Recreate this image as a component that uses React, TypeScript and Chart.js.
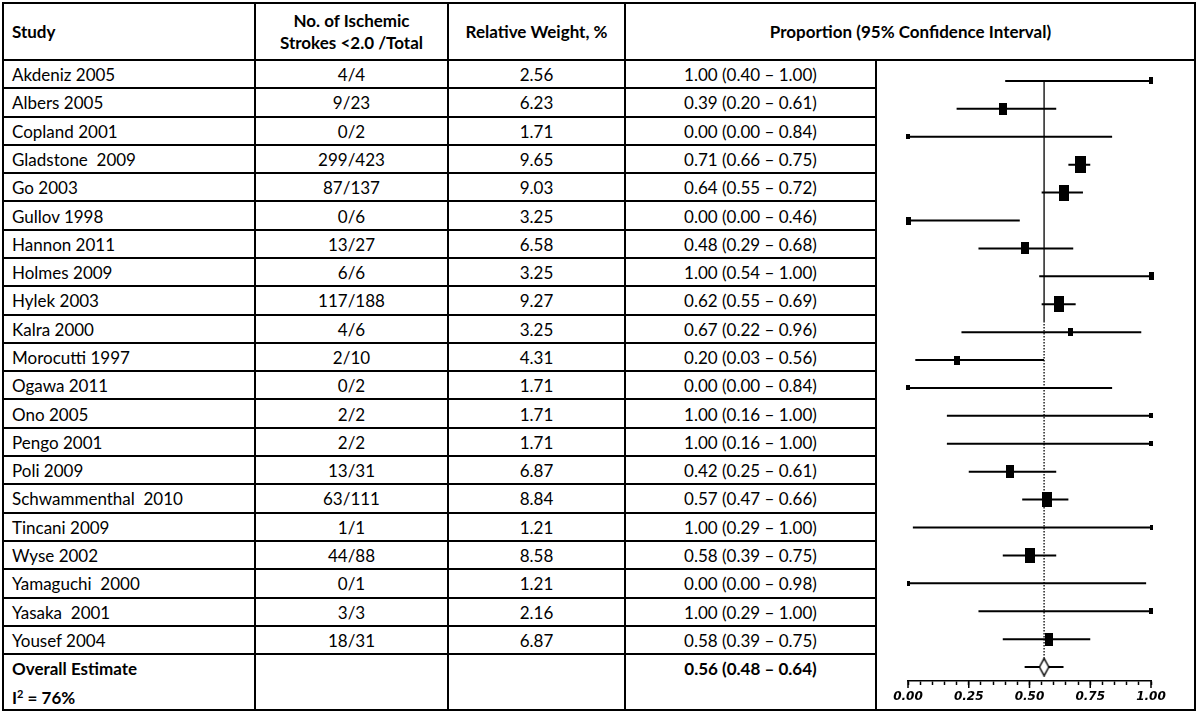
import React, { useEffect, useRef } from "react";
import { Chart, registerables } from "chart.js";

Chart.register(...registerables);

// ---------------- data ----------------
const studies = [
  "Akdeniz 2005", "Albers 2005", "Copland 2001", "Gladstone  2009", "Go 2003",
  "Gullov 1998", "Hannon 2011", "Holmes 2009", "Hylek 2003", "Kalra 2000",
  "Morocutti 1997", "Ogawa 2011", "Ono 2005", "Pengo 2001", "Poli 2009",
  "Schwammenthal  2010", "Tincani 2009", "Wyse 2002", "Yamaguchi  2000", "Yasaka  2001",
  "Yousef 2004",
];
const eventsTotal = [
  "4/4", "9/23", "0/2", "299/423", "87/137", "0/6", "13/27", "6/6", "117/188", "4/6",
  "2/10", "0/2", "2/2", "2/2", "13/31", "63/111", "1/1", "44/88", "0/1", "3/3", "18/31",
];
const weights = [
  2.56, 6.23, 1.71, 9.65, 9.03, 3.25, 6.58, 3.25, 9.27, 3.25,
  4.31, 1.71, 1.71, 1.71, 6.87, 8.84, 1.21, 8.58, 1.21, 2.16, 6.87,
];
const ciText = [
  "1.00 (0.40 – 1.00)", "0.39 (0.20 – 0.61)", "0.00 (0.00 – 0.84)", "0.71 (0.66 – 0.75)",
  "0.64 (0.55 – 0.72)", "0.00 (0.00 – 0.46)", "0.48 (0.29 – 0.68)", "1.00 (0.54 – 1.00)",
  "0.62 (0.55 – 0.69)", "0.67 (0.22 – 0.96)", "0.20 (0.03 – 0.56)", "0.00 (0.00 – 0.84)",
  "1.00 (0.16 – 1.00)", "1.00 (0.16 – 1.00)", "0.42 (0.25 – 0.61)", "0.57 (0.47 – 0.66)",
  "1.00 (0.29 – 1.00)", "0.58 (0.39 – 0.75)", "0.00 (0.00 – 0.98)", "1.00 (0.29 – 1.00)",
  "0.58 (0.39 – 0.75)",
];
// values as plotted in the forest plot
const plotEstimate = [
  1.0, 0.39, 0.0, 0.71, 0.64, 0.0, 0.48, 1.0, 0.62, 0.67,
  0.2, 0.0, 1.0, 1.0, 0.42, 0.57, 1.0, 0.5, 0.0, 1.0, 0.58,
];
const plotLower = [
  0.4, 0.2, 0.0, 0.66, 0.55, 0.0, 0.29, 0.54, 0.55, 0.22,
  0.03, 0.0, 0.16, 0.16, 0.25, 0.47, 0.02, 0.39, 0.0, 0.29, 0.39,
];
const plotUpper = [
  1.0, 0.61, 0.84, 0.75, 0.72, 0.46, 0.68, 1.0, 0.69, 0.96,
  0.56, 0.84, 1.0, 1.0, 0.61, 0.66, 1.0, 0.61, 0.98, 1.0, 0.75,
];
const overallLabel = "Overall Estimate";
const overallText = "0.56 (0.48 – 0.64)";
const overallEstimate = 0.56;
const overallLower = 0.48;
const overallUpper = 0.64;
const heterogeneity = "76%";
const xTickValues = [0, 0.25, 0.5, 0.75, 1];

// ---------------- layout ----------------
const T_L = 2, T_R = 1196, T_T = 2, T_B = 711;
const HEAD_B = 60;
const ROW_H = 28.29;
const COL1 = 255, COL2 = 448, COL3 = 625, PLOT_L = 876;
const LW = 2;
const FONT = "Lato, 'Open Sans', sans-serif";

const line = (x: number, y: number, w: number, h: number, key: string) => (
  <div key={key} style={{ position: "absolute", left: x, top: y, width: w, height: h, background: "#000" }} />
);

function ForestPlot() {
  const ref = useRef<HTMLCanvasElement>(null);
  useEffect(() => {
    const makeBox = (w: number) => {
      const c = document.createElement("canvas");
      c.width = Math.max(3, Math.round(0.9 * w + 2));
      c.height = Math.max(4, Math.round(1.4 * w + 3));
      const g = c.getContext("2d")!;
      g.fillStyle = "#000";
      g.fillRect(0, 0, c.width, c.height);
      return c;
    };
    const boxes = weights.map(makeBox);
    const diamond = document.createElement("canvas");
    diamond.width = 11;
    diamond.height = 19;
    {
      const g = diamond.getContext("2d")!;
      g.beginPath();
      g.moveTo(5.5, 0.8);
      g.lineTo(10.2, 9.5);
      g.lineTo(5.5, 18.2);
      g.lineTo(0.8, 9.5);
      g.closePath();
      g.fillStyle = "#fff";
      g.fill();
      g.strokeStyle = "#000";
      g.lineWidth = 1.4;
      g.stroke();
    }
    const overallRow = studies.length;
    const ciData: { x: number; y: number }[] = [];
    studies.forEach((_, i) => {
      ciData.push({ x: plotLower[i], y: i }, { x: plotUpper[i], y: i }, { x: NaN, y: NaN });
    });
    ciData.push({ x: overallLower, y: overallRow }, { x: overallUpper, y: overallRow });

    const majorTicks = {
      id: "majorTicks",
      afterDraw(chart: any) {
        const s = chart.scales.x;
        const ctx = chart.ctx;
        ctx.save();
        ctx.strokeStyle = "#000";
        ctx.lineWidth = 1.5;
        xTickValues.forEach((v) => {
          const x = s.getPixelForValue(v);
          ctx.beginPath();
          ctx.moveTo(x, s.top);
          ctx.lineTo(x, s.top + 7);
          ctx.stroke();
        });
        ctx.restore();
      },
    };

    const chart = new Chart(ref.current!, {
      type: "scatter",
      data: {
        datasets: [
          { data: [{ x: overallEstimate, y: overallRow }], pointStyle: diamond as any, pointRadius: 5, clip: false as any },
          { data: plotEstimate.map((x, i) => ({ x, y: i })), pointStyle: boxes as any, pointRadius: 5, clip: false as any },
          { data: ciData, showLine: true, borderColor: "#000", borderWidth: 2, pointRadius: 0, spanGaps: false, clip: false as any },
          { data: [{ x: overallEstimate, y: 0 }, { x: overallEstimate, y: 8.6 }], showLine: true, borderColor: "#000", borderWidth: 1.3, pointRadius: 0 },
          { data: [{ x: overallEstimate, y: 8.6 }, { x: overallEstimate, y: overallRow }], showLine: true, borderColor: "#000", borderWidth: 1.3, borderDash: [1.5, 1.5], pointRadius: 0 },
        ],
      },
      options: {
        animation: false,
        responsive: false,
        events: [],
        layout: { padding: { top: 5, left: 31, right: 43, bottom: 0 } },
        plugins: { legend: { display: false }, tooltip: { enabled: false } },
        scales: {
          x: {
            type: "linear",
            min: 0,
            max: 1,
            position: "bottom",
            afterFit: (s: any) => { s.height = 29; },
            ticks: {
              stepSize: 0.05,
              autoSkip: false,
              maxRotation: 0,
              padding: 5,
              color: "#000",
              font: { family: "'DejaVu Sans'", size: 12, style: "italic", weight: "bold" },
              callback: (v: any) => (xTickValues.some((t) => Math.abs(t - Number(v)) < 1e-6) ? Number(v).toFixed(2) : ""),
            },
            grid: { drawOnChartArea: false, drawTicks: true, tickLength: 4, tickColor: "#000", tickWidth: 1.5 },
            border: { display: true, color: "#000", width: 1.5 },
          },
          y: { type: "linear", reverse: true, min: -0.5, max: 21.5, display: false },
        },
      },
      plugins: [majorTicks],
    });
    return () => chart.destroy();
  }, []);
  return (
    <canvas
      ref={ref}
      width={317}
      height={649}
      style={{ position: "absolute", left: PLOT_L + 1, top: HEAD_B + 1, width: 317, height: 649 }}
    />
  );
}

export default function App() {
  const els: React.ReactNode[] = [];
  // outer border
  els.push(line(T_L, T_T, T_R - T_L, LW, "bt"));
  els.push(line(T_L, T_B - LW, T_R - T_L, LW, "bb"));
  els.push(line(T_L, T_T, LW, T_B - T_T, "bl"));
  els.push(line(T_R - LW, T_T, LW, T_B - T_T, "br"));
  // header bottom
  els.push(line(T_L, HEAD_B - 1, T_R - T_L, LW, "hb"));
  // column lines
  [COL1, COL2, COL3].forEach((c, i) => els.push(line(c - 1, T_T, LW, T_B - T_T, "c" + i)));
  els.push(line(PLOT_L - 1, HEAD_B, LW, T_B - HEAD_B, "cp"));
  // row lines
  for (let k = 1; k <= studies.length; k++) {
    const y = Math.round(HEAD_B + k * ROW_H);
    els.push(line(T_L, y - 1, PLOT_L - T_L, LW, "r" + k));
  }

  const cell = (
    key: string, x1: number, x2: number, y: number, h: number, content: React.ReactNode,
    align: "left" | "center", bold = false
  ) => (
    <div
      key={key}
      style={{
        position: "absolute", left: x1, top: y, width: x2 - x1, height: h,
        display: "flex", alignItems: "center",
        justifyContent: align === "left" ? "flex-start" : "center",
        paddingLeft: align === "left" ? 10 : 0, paddingTop: 2, boxSizing: "border-box",
        fontWeight: bold ? 700 : 400, whiteSpace: "pre", lineHeight: 1.3,
        textAlign: "center",
      }}
    >
      {content}
    </div>
  );

  // header
  els.push(cell("h1", T_L, COL1, T_T, HEAD_B - T_T, "Study", "left", true));
  els.push(cell("h2", COL1, COL2, T_T, HEAD_B - T_T, <span>No. of Ischemic<br />Strokes &lt;2.0 /Total</span>, "center", true));
  els.push(cell("h3", COL2, COL3, T_T, HEAD_B - T_T, "Relative Weight, %", "center", true));
  els.push(cell("h4", COL3, T_R, T_T, HEAD_B - T_T, "Proportion (95% Confidence Interval)", "center", true));

  studies.forEach((s, i) => {
    const y = HEAD_B + i * ROW_H;
    els.push(cell("s" + i, T_L, COL1, y, ROW_H, s, "left"));
    els.push(cell("e" + i, COL1, COL2, y, ROW_H, eventsTotal[i], "center"));
    els.push(cell("w" + i, COL2, COL3, y, ROW_H, weights[i].toFixed(2), "center"));
    els.push(cell("p" + i, COL3, PLOT_L, y, ROW_H, ciText[i], "center"));
  });
  const oy = HEAD_B + studies.length * ROW_H;
  els.push(cell("o1", T_L, COL1, oy, ROW_H, overallLabel, "left", true));
  els.push(cell("o2", T_L, COL1, oy + ROW_H, T_B - oy - ROW_H, <span>I<sup style={{ fontSize: 11, verticalAlign: 6 }}>2</sup> = {heterogeneity}</span>, "left", true));
  els.push(cell("o3", COL3, PLOT_L, oy, ROW_H, overallText, "center", true));

  return (
    <div
      style={{
        position: "absolute", left: 0, top: 0, width: 1200, height: 715, background: "#fff",
        fontFamily: FONT, fontSize: 17, color: "#000", overflow: "hidden",
      }}
    >
      {els}
      <ForestPlot />
    </div>
  );
}
